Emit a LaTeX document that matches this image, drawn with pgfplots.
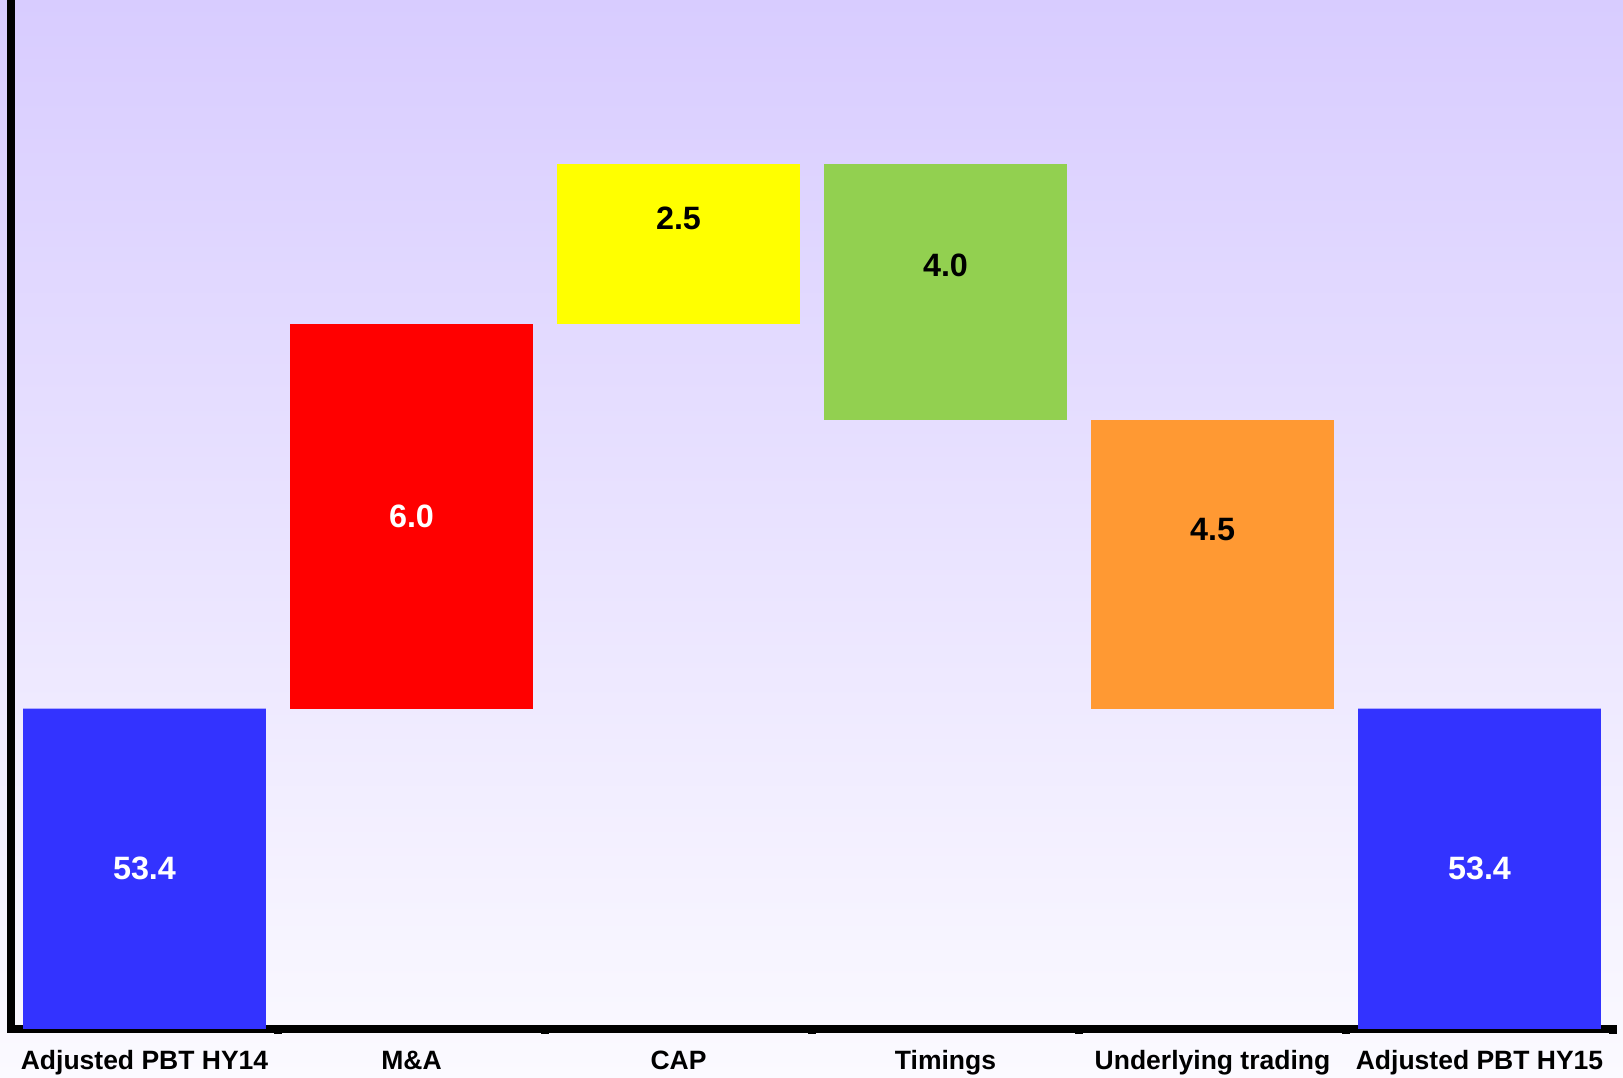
\documentclass[border=0pt]{standalone}
\usepackage{pgfplots}
\pgfplotsset{compat=1.18}
\usepackage{pgfplotstable}
\usepackage{fontspec}
\setmainfont{Liberation Sans}

\definecolor{bgtop}{RGB}{216,204,255}
\definecolor{bgbot}{RGB}{251,250,255}
\definecolor{barblue}{RGB}{51,51,255}
\definecolor{barred}{RGB}{255,0,0}
\definecolor{baryellow}{RGB}{255,255,0}
\definecolor{bargreen}{RGB}{146,208,80}
\definecolor{barorange}{RGB}{255,153,51}

% Waterfall bridge: invisible base plus one coloured step per category
\pgfplotstableread{
x base  blue  red  yellow green orange
0 0     53.4  0    0      0     0
1 53.4  0     6.0  0      0     0
2 59.4  0     0    2.5    0     0
3 57.9  0     0    0      4.0   0
4 53.4  0     0    0      0     4.5
5 0     53.4  0    0      0     0
}\bridge

\tikzset{vallabel/.style={font=\fontsize{9.7}{11}\selectfont\bfseries}}

\begin{document}
\begin{tikzpicture}
% page background with vertical gradient
\shade[top color=bgtop, bottom color=bgbot] (-3.3pt,-14.7pt) rectangle (483.6pt,308.7pt);
\begin{axis}[
  at={(0pt,0pt)}, anchor=south west,
  scale only axis,
  width=480.6pt, height=307.5pt,
  xmin=-0.5, xmax=5.5,
  ymin=48.4, ymax=64.4,
  ybar stacked,
  bar width=0.91,
  axis lines*=left,
  axis line style={line width=2.5pt, black, line cap=rect},
  ytick=\empty,
  xtick={0,1,2,3,4,5},
  xticklabels={Adjusted PBT HY14, M\&A, CAP, Timings, Underlying trading, Adjusted PBT HY15},
  major tick length=0pt,
  minor xtick={0.5,1.5,2.5,3.5,4.5,5.5},
  minor tick length=1.4pt,
  xtick align=outside,
  minor x tick style={line width=2.2pt, black},
  xticklabel style={font=\fontsize{7.95}{9}\selectfont\bfseries, yshift=-3.0pt},
]
\addplot[draw=none, fill=none] table[x=x, y=base] {\bridge};
\addplot[draw=none, fill=barblue] table[x=x, y=blue] {\bridge};
\addplot[draw=none, fill=barred] table[x=x, y=red] {\bridge};
\addplot[draw=none, fill=baryellow] table[x=x, y=yellow] {\bridge};
\addplot[draw=none, fill=bargreen] table[x=x, y=green] {\bridge};
\addplot[draw=none, fill=barorange] table[x=x, y=orange] {\bridge};

\coordinate (v0) at (axis cs:0,50.9);
\coordinate (v1) at (axis cs:1,56.4);
\coordinate (v2) at (axis cs:2,61.06);
\coordinate (v3) at (axis cs:3,60.32);
\coordinate (v4) at (axis cs:4,56.2);
\coordinate (v5) at (axis cs:5,50.9);
\end{axis}
\node[vallabel, text=white] at (v0) {53.4};
\node[vallabel, text=white] at (v1) {6.0};
\node[vallabel, text=black] at (v2) {2.5};
\node[vallabel, text=black] at (v3) {4.0};
\node[vallabel, text=black] at (v4) {4.5};
\node[vallabel, text=white] at (v5) {53.4};
\pgfresetboundingbox
\path[use as bounding box] (-3.3pt,-14.7pt) rectangle (483.6pt,308.7pt);
\end{tikzpicture}
\end{document}
